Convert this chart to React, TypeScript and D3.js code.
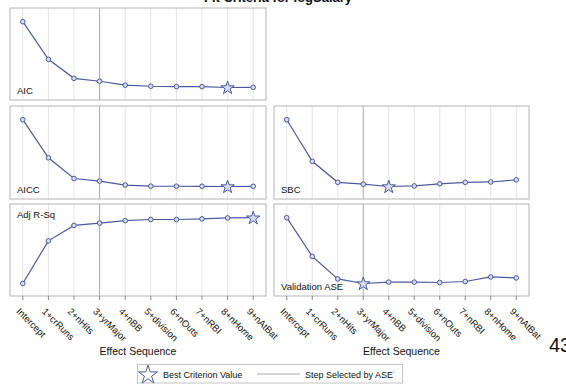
import React from "react";
import * as d3 from "d3";

// Effect sequence along the x axis
const effects = [
  "Intercept",
  "1+crRuns",
  "2+nHits",
  "3+yrMajor",
  "4+nBB",
  "5+division",
  "6+nOuts",
  "7+nRBI",
  "8+nHome",
  "9+nAtBat",
];

// Fit criteria per step
const aic = [-60, -165, -218, -226, -237, -240, -241, -241, -243.5, -243];
const aicc = [-58, -163, -220, -227, -238, -241, -241.3, -241.4, -242, -241.5];
const adjRsq = [0, 0.36, 0.49, 0.51, 0.53, 0.54, 0.54, 0.545, 0.553, 0.555];
const sbc = [-55, -170, -228, -233, -239.5, -238, -232, -228, -227, -221];
const validationAse = [0.64, 0.446, 0.333, 0.31, 0.317, 0.317, 0.315, 0.32, 0.343, 0.338];

const W = 566;
const H = 384;
const FONT = "'Liberation Sans', Arial, Helvetica, sans-serif";
const LINE = "#4a5aa0";
const MARK_FILL = "#d9dcec";

const argBest = (vals: number[], larger: boolean) => {
  let b = 0;
  vals.forEach((v, i) => {
    if (larger ? v > vals[b] : v < vals[b]) b = i;
  });
  return b;
};

// Step chosen by the validation criterion
const selectedStep = argBest(validationAse, false);

type Panel = {
  name: string;
  values: number[];
  larger: boolean;
  x0: number;
  x1: number;
  y0: number;
  y1: number;
  labelTop: boolean;
  bottomAxis: boolean;
};

const leftX: [number, number] = [10, 266];
const rightX: [number, number] = [274, 529];
const rows: [number, number][] = [
  [8, 100],
  [106, 199],
  [204, 296],
];

const panels: Panel[] = [
  { name: "AIC", values: aic, larger: false, x0: leftX[0], x1: leftX[1], y0: rows[0][0], y1: rows[0][1], labelTop: false, bottomAxis: false },
  { name: "AICC", values: aicc, larger: false, x0: leftX[0], x1: leftX[1], y0: rows[1][0], y1: rows[1][1], labelTop: false, bottomAxis: false },
  { name: "Adj R-Sq", values: adjRsq, larger: true, x0: leftX[0], x1: leftX[1], y0: rows[2][0], y1: rows[2][1], labelTop: true, bottomAxis: true },
  { name: "SBC", values: sbc, larger: false, x0: rightX[0], x1: rightX[1], y0: rows[1][0], y1: rows[1][1], labelTop: false, bottomAxis: false },
  { name: "Validation ASE", values: validationAse, larger: false, x0: rightX[0], x1: rightX[1], y0: rows[2][0], y1: rows[2][1], labelTop: false, bottomAxis: true },
];

const starPath = (size: number) => d3.symbol(d3.symbolStar, size)()!;

function PanelView({ p }: { p: Panel }) {
  const x = d3.scalePoint<string>().domain(effects).range([p.x0, p.x1]).padding(0.5);
  const ext = d3.extent(p.values) as [number, number];
  const y = d3.scaleLinear().domain(ext).range([p.y1 - 12.5, p.y0 + 13.7]);
  const line = d3
    .line<number>()
    .x((_, i) => x(effects[i])!)
    .y((v) => y(v));
  const best = argBest(p.values, p.larger);
  return (
    <g>
      {effects.map((e, i) =>
        i === selectedStep ? null : (
          <line key={e} x1={x(e)} x2={x(e)} y1={p.y0} y2={p.y1} stroke="#e4e4e4" strokeWidth={1} />
        )
      )}
      <line
        x1={x(effects[selectedStep])}
        x2={x(effects[selectedStep])}
        y1={p.y0}
        y2={p.y1}
        stroke="#a9a9a9"
        strokeWidth={1}
      />
      <rect x={p.x0} y={p.y0} width={p.x1 - p.x0} height={p.y1 - p.y0} fill="none" stroke="#b4b4b4" strokeWidth={1} />
      <path d={line(p.values)!} fill="none" stroke={LINE} strokeWidth={1.2} />
      {p.values.map((v, i) =>
        i === best ? null : (
          <circle key={i} cx={x(effects[i])} cy={y(v)} r={2.3} fill={MARK_FILL} stroke={LINE} strokeWidth={1} />
        )
      )}
      <path
        d={starPath(55)}
        transform={`translate(${x(effects[best])},${y(p.values[best]) + 0.5})`}
        fill={MARK_FILL}
        stroke={LINE}
        strokeWidth={1}
      />
      <text
        x={p.x0 + 7}
        y={p.labelTop ? p.y0 + 14 : p.y1 - 6}
        fontSize={9.5}
        fontFamily={FONT}
        fill="#111"
      >
        {p.name}
      </text>
      {p.bottomAxis && (
        <g>
          {effects.map((e) => (
            <g key={e}>
              <line x1={x(e)} x2={x(e)} y1={p.y1} y2={p.y1 + 4} stroke="#8a8a8a" strokeWidth={1} />
              <text
                transform={`translate(${x(e)! - 7},${p.y1 + 16}) rotate(45)`}
                fontSize={9.5}
                fontFamily={FONT}
                fill="#111"
              >
                {e}
              </text>
            </g>
          ))}
          <text
            x={(p.x0 + p.x1) / 2}
            y={355}
            textAnchor="middle"
            fontSize={10.5}
            fontFamily={FONT}
            fill="#111"
          >
            Effect Sequence
          </text>
        </g>
      )}
    </g>
  );
}

export default function App() {
  return (
    <svg
      width={W}
      height={H}
      style={{ position: "absolute", left: 0, top: 0, background: "#fff" }}
    >
      <rect width={W} height={H} fill="#fff" />
      <text x={278} y={2} textAnchor="middle" fontSize={13} fontWeight="bold" fontFamily={FONT} fill="#111">
        Fit Criteria for logSalary
      </text>
      {panels.map((p) => (
        <PanelView key={p.name} p={p} />
      ))}
      <text x={549} y={352} fontSize={20} fontFamily={FONT} fill="#111">
        43
      </text>
      {/* legend */}
      <g>
        <rect x={137.5} y={364.5} width={265} height={18.5} fill="#fff" stroke="#c4c4c4" strokeWidth={1} />
        <path d={starPath(110)} transform="translate(148,375)" fill="#fff" stroke={LINE} strokeWidth={1} />
        <text x={163} y={377.5} fontSize={9} fontFamily={FONT} fill="#111">
          Best Criterion Value
        </text>
        <line x1={257} x2={300} y1={374} y2={374} stroke="#a9a9a9" strokeWidth={1} />
        <text x={305} y={377.5} fontSize={9} fontFamily={FONT} fill="#111">
          Step Selected by ASE
        </text>
      </g>
    </svg>
  );
}
